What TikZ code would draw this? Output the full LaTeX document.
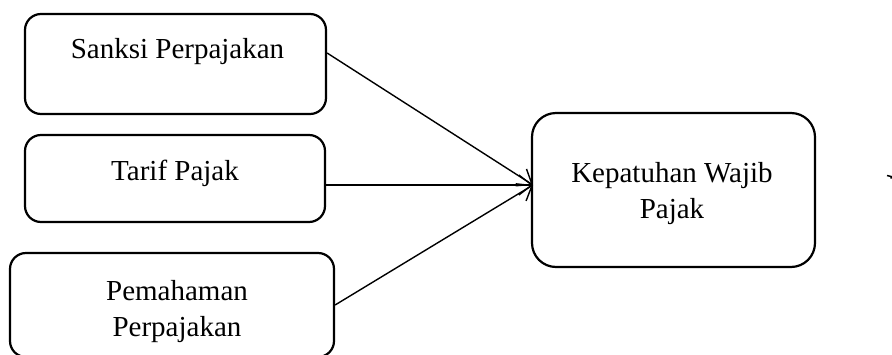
\documentclass[tikz,border=0pt]{standalone}
\usepackage{fontspec}
\setmainfont{Liberation Serif}
\usetikzlibrary{arrows.meta}
\begin{document}
\begin{tikzpicture}[x=1pt,y=-1pt,
  box/.style={draw=black, line width=2.2pt, rounded corners=16pt, inner sep=0pt},
  txt/.style={font=\fontsize{29}{36}\selectfont, align=center, inner sep=0pt},
  arr/.style={line width=1.4pt, -{Straight Barb[length=13pt,width=20pt,line width=1.4pt]}}]
\useasboundingbox (0,0) rectangle (892,354);
% boxes
\node[box, minimum width=301pt, minimum height=100pt] (s) at (175.5,64) {};
\node[txt, anchor=base] (st) at (177.5,58) {Sanksi Perpajakan};
\node[box, minimum width=300pt, minimum height=87pt] (t) at (175,178.5) {};
\node[txt, anchor=base] (tt) at (175,180) {Tarif Pajak};
\node[box, minimum width=324pt, minimum height=104pt] (p) at (172,305) {};
\node[txt] (pt) at (177,312) {Pemahaman\\Perpajakan};
\node[box, rounded corners=24pt, minimum width=283pt, minimum height=154pt] (k) at (673.5,190) {};
\node[txt] (kt) at (672,193.5) {Kepatuhan Wajib\\Pajak};
\coordinate (kin) at (533,185);
% arrows
\draw[arr] ([yshift=11pt]s.east) -- (kin);
\draw[arr] ([yshift=-6.5pt]t.east) -- (kin);
\draw[arr] (p.east) -- (kin);
% small mark at right edge
\draw[line width=1.5pt] (887,175.5) -- (891,176.5) -- (891,178.5);
\end{tikzpicture}
\end{document}
